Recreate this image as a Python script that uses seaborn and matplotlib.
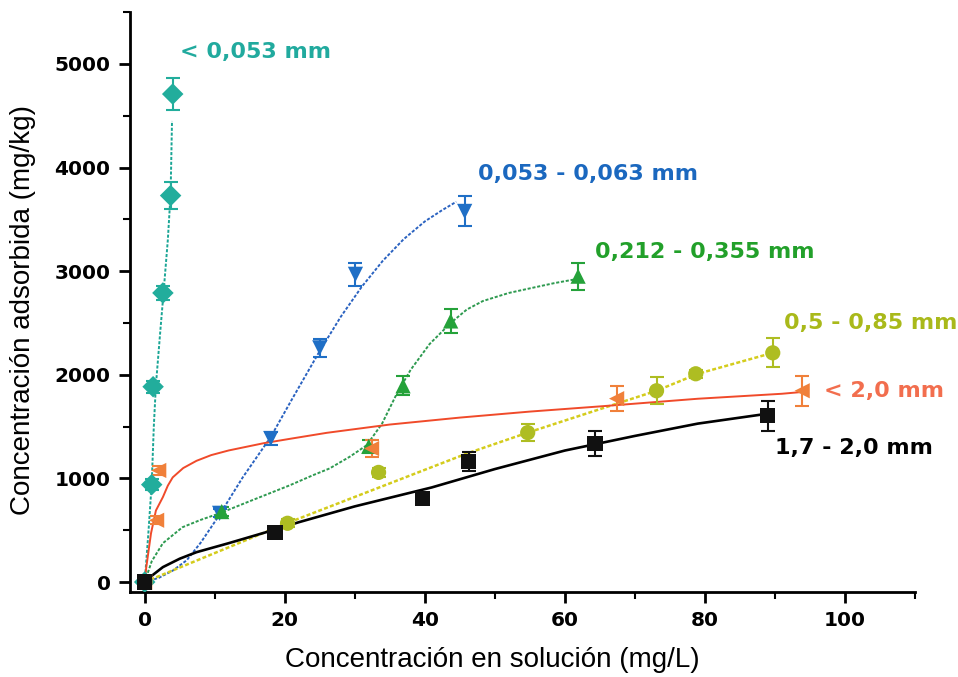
import numpy as np
import pandas as pd
import matplotlib
matplotlib.use("Agg")
import matplotlib.pyplot as plt
import seaborn as sns

# ---------------- data ----------------
series_names = ["< 0,053 mm", "0,053 - 0,063 mm", "0,212 - 0,355 mm",
                "0,5 - 0,85 mm", "< 2,0 mm", "1,7 - 2,0 mm"]

# measured points
x_s1 = [0, 1.0, 1.2, 2.6, 3.7, 4.0]
y_s1 = [0, 940, 1885, 2790, 3730, 4710]
e_s1 = [0, 50, 60, 70, 130, 150]

x_s2 = [0, 10.7, 18.0, 25.0, 30.1, 45.7]
y_s2 = [0, 663, 1385, 2260, 2970, 3577]
e_s2 = [0, 40, 60, 85, 110, 145]

x_s3 = [0, 11.0, 32.0, 36.9, 43.7, 61.9]
y_s3 = [0, 680, 1310, 1894, 2520, 2952]
e_s3 = [0, 40, 60, 90, 120, 130]

x_s4 = [0, 20.4, 33.4, 54.7, 73.1, 78.7, 89.7]
y_s4 = [0, 567, 1058, 1442, 1846, 2010, 2212]
e_s4 = [0, 40, 40, 85, 130, 40, 140]

x_s5 = [0, 1.7, 2.0, 32.4, 67.4, 93.9]
y_s5 = [0, 596, 1077, 1288, 1770, 1846]
e_s5 = [0, 40, 40, 80, 120, 145]

x_s6 = [0, 18.6, 39.7, 46.3, 64.3, 89.0]
y_s6 = [0, 481, 806, 1163, 1337, 1606]
e_s6 = [0, 30, 40, 90, 125, 145]

# fitted curves
cx_s1 = [0, 0.5, 1.0, 1.3, 1.6, 2.2, 2.7, 3.3, 3.7, 3.8, 3.9]
cy_s1 = [0, 450, 950, 1500, 1900, 2400, 2800, 3300, 3750, 4100, 4450]

cx_s2 = [0, 2, 4, 6, 8, 10.7, 14, 18, 21, 25, 28, 31, 34, 37, 40, 42.5, 44.5]
cy_s2 = [0, 40, 110, 210, 380, 650, 1010, 1400, 1760, 2230, 2560, 2850,
         3100, 3310, 3480, 3590, 3670]

cx_s3 = [0, 1, 2.6, 5.4, 8, 10.7, 15, 20.7, 24, 26.4, 29.3, 31.7, 33.9,
         36, 38, 40.7, 43.7, 46, 48.3, 52, 55.4, 58.5, 61.6]
cy_s3 = [0, 200, 375, 529, 600, 663, 780, 933, 1030, 1096, 1210, 1320,
         1529, 1817, 2050, 2298, 2500, 2630, 2712, 2790, 2840, 2885, 2923]

cx_s4 = [0, 20.4, 46.0, 54.7, 73.1, 79.0, 89.7]
cy_s4 = [0, 570, 1240, 1442, 1846, 2010, 2212]

cx_s5 = [0, 0.2, 0.9, 1.6, 2.6, 3.3, 4.0, 5.5, 7.4, 9.5, 12, 17, 21, 26,
         35, 45, 55, 65, 79, 91, 94]
cy_s5 = [0, 130, 470, 690, 820, 930, 1010, 1100, 1170, 1225, 1270, 1340,
         1385, 1440, 1520, 1587, 1645, 1695, 1769, 1817, 1835]

cx_s6 = [0, 1, 2.6, 5, 7.4, 12, 18.3, 22, 30, 41, 50, 60, 70, 79, 89]
cy_s6 = [0, 60, 144, 225, 288, 375, 500, 577, 730, 913, 1090, 1269, 1410,
         1529, 1625]

# labels (text position in data coords)
label_x = [5.0, 47.6, 64.3, 91.3, 97.0, 90.0]
label_y = [5115, 3940, 3190, 2500, 1840, 1290]

x_ticks = [0, 20, 40, 60, 80, 100]
y_ticks = [0, 1000, 2000, 3000, 4000, 5000]

# ---------------- styles ----------------
marker_colors = ["#22ad9c", "#1f6fc6", "#25a23a", "#aebd22", "#f0803a", "#111111"]
line_colors = ["#1aa595", "#2a62c0", "#2e9a50", "#d4cc1c", "#f04a2a", "#000000"]
text_colors = ["#21aa9e", "#1b68bf", "#22a02a", "#a9b91a", "#f26e4e", "#000000"]
markers = ["D", "v", "^", "o", "<", "s"]

sns.set_theme(style="ticks")
plt.rcParams['font.family'] = ['Liberation Sans', 'DejaVu Sans']

fig = plt.figure(figsize=(9.58, 6.77), dpi=100)
ax = fig.add_axes([0.1357, 0.1256, 0.955 - 0.1357, 0.982 - 0.1256])

pts = [(x_s1, y_s1, e_s1), (x_s2, y_s2, e_s2), (x_s3, y_s3, e_s3),
       (x_s4, y_s4, e_s4), (x_s5, y_s5, e_s5), (x_s6, y_s6, e_s6)]
curves = [(cx_s1, cy_s1), (cx_s2, cy_s2), (cx_s3, cy_s3),
          (cx_s4, cy_s4), (cx_s5, cy_s5), (cx_s6, cy_s6)]

dot = (0, (1.6, 0.9))
styles = [dot, dot, dot, dot, "-", "-"]
widths = [1.4, 1.4, 1.4, 1.8, 1.4, 1.9]

for i, name in enumerate(series_names):
    cx, cy = curves[i]
    cdf = pd.DataFrame({"x": cx, "y": cy})
    sns.lineplot(data=cdf, x="x", y="y", ax=ax, color=line_colors[i],
                 linewidth=widths[i], linestyle=styles[i], sort=False,
                 estimator=None, zorder=2)

for i, name in enumerate(series_names):
    x, y, e = pts[i]
    df = pd.DataFrame({"x": x, "y": y, "e": e})
    ax.errorbar(df["x"], df["y"], yerr=df["e"], fmt="none",
                ecolor=marker_colors[i], elinewidth=1.5, capsize=5,
                capthick=1.5, zorder=3)
    sns.scatterplot(data=df, x="x", y="y", ax=ax, marker=markers[i],
                    color=marker_colors[i], s=120, edgecolor="none",
                    linewidth=0, zorder=4, legend=False)

for i, name in enumerate(series_names):
    ax.text(label_x[i], label_y[i], name, color=text_colors[i],
            fontsize=16, fontweight="bold", ha="left", va="center",
            family=["DejaVu Sans"], zorder=5)

ax.set_xlim(-2.1, 110)
ax.set_ylim(-96, 5480)
ax.set_xticks(x_ticks)
ax.set_yticks(y_ticks)
ax.set_xticks([10, 30, 50, 70, 90, 110], minor=True)
ax.set_yticks([500, 1500, 2500, 3500, 4500, 5500], minor=True)
ax.tick_params(axis="both", which="major", direction="out", length=8,
               width=2, labelsize=14.5, color="black", labelcolor="black", pad=6)
ax.tick_params(axis="both", which="minor", direction="out", length=5,
               width=1.5, color="black")
for lab in ax.get_xticklabels() + ax.get_yticklabels():
    lab.set_family(["DejaVu Sans"])
    lab.set_fontweight("bold")
for side in ["left", "bottom"]:
    ax.spines[side].set_linewidth(2)
    ax.spines[side].set_color("black")
ax.spines["top"].set_visible(False)
ax.spines["right"].set_visible(False)

ax.set_xlabel("Concentración en solución (mg/L)", fontsize=20,
              color="black", va="center")
ax.set_ylabel("Concentración adsorbida (mg/kg)", fontsize=20,
              color="black", va="center")
ax.xaxis.set_label_coords(0.461, -0.117)
ax.yaxis.set_label_coords(-0.136, 0.486)

fig.savefig("out.png", dpi=100, facecolor="white")
